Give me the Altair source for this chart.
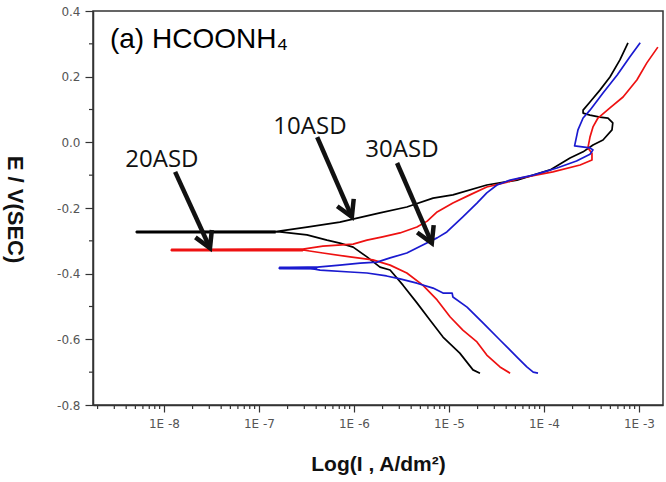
import altair as alt
import pandas as pd

# ---- data: current density (A/dm2) and potential (V vs SCE), in scan order
# 10ASD (black)
black_I = [2.12e-5, 1.79e-5, 1.3e-5, 8.65e-6, 6.3e-6, 4.6e-6, 3.28e-6, 2.4e-6, 1.88e-6, 1.37e-6,
           9.8e-7, 7.1e-7, 5.2e-7, 3.2e-7, 1.66e-7, 5.1e-9, 1.5e-7, 3.2e-7, 7.1e-7, 1.08e-6,
           1.88e-6, 3.6e-6, 6.8e-6, 1.1e-5, 2.5e-5, 5.2e-5, 1.16e-4, 1.88e-4, 2.58e-4, 3.28e-4,
           4.18e-4, 5.2e-4, 5.3e-4, 4.72e-4, 3.88e-4, 3.05e-4, 2.58e-4, 2.58e-4, 3.05e-4, 3.88e-4,
           4.95e-4, 6.3e-4, 7.66e-4]
black_E = [-0.703, -0.693, -0.642, -0.593, -0.541, -0.489, -0.435, -0.389, -0.380, -0.349,
           -0.319, -0.307, -0.298, -0.282, -0.273, -0.273, -0.272, -0.258, -0.243, -0.231,
           -0.215, -0.197, -0.170, -0.160, -0.130, -0.115, -0.084, -0.048, -0.029, -0.008,
           0.007, 0.038, 0.059, 0.074, 0.077, 0.083, 0.089, 0.098, 0.123, 0.159,
           0.199, 0.251, 0.303]
# 20ASD (red)
red_I = [4.4e-5, 3.44e-5, 2.5e-5, 1.97e-5, 1.4e-5, 1.03e-5, 7.5e-6, 5.3e-6, 3.6e-6, 2.4e-6,
         1.58e-6, 9.1e-7, 4.7e-7, 2.9e-7, 1.19e-8, 2.9e-7, 4.7e-7, 9.8e-7, 1.37e-6, 2.0e-6,
         3.05e-6, 4.6e-6, 5.9e-6, 7.5e-6, 1.1e-5, 1.66e-5, 2.5e-5, 4.1e-5, 5.6e-5, 1.24e-4,
         2.4e-4, 3.2e-4, 3.2e-4, 2.9e-4, 3.05e-4, 3.28e-4, 3.7e-4, 4.95e-4, 6.8e-4, 9.5e-4,
         1.21e-3, 1.58e-3]
red_E = [-0.703, -0.684, -0.648, -0.608, -0.572, -0.532, -0.480, -0.435, -0.398, -0.374,
         -0.358, -0.349, -0.337, -0.328, -0.328, -0.325, -0.316, -0.310, -0.298, -0.288,
         -0.276, -0.258, -0.240, -0.212, -0.185, -0.160, -0.136, -0.121, -0.109, -0.090,
         -0.069, -0.054, -0.033, -0.017, 0.016, 0.047, 0.074, 0.105, 0.138, 0.190,
         0.242, 0.290]
# 30ASD (blue)
blue_I = [8.65e-5, 7.7e-5, 6.6e-5, 5.2e-5, 3.44e-5, 2.28e-5, 1.55e-5, 1.1e-5, 1.08e-5, 8.65e-6,
          6.8e-6, 4.6e-6, 3.05e-6, 2.2e-6, 1.37e-6, 9.1e-7, 4.4e-7, 3.5e-7, 1.63e-7, 4.1e-7,
          7.1e-7, 1.16e-6, 1.75e-6, 2.4e-6, 3.6e-6, 5.3e-6, 7.5e-6, 9.5e-6, 1.4e-5, 1.97e-5,
          2.5e-5, 3.2e-5, 4.4e-5, 7.7e-5, 1.37e-4, 2.2e-4, 3.05e-4, 3.28e-4, 3.05e-4, 2.1e-4,
          2.28e-4, 2.58e-4, 3.05e-4, 4.18e-4, 5.9e-4, 8.0e-4, 1.03e-3]
blue_E = [-0.703, -0.700, -0.684, -0.654, -0.602, -0.550, -0.502, -0.471, -0.459, -0.459,
          -0.444, -0.429, -0.416, -0.407, -0.398, -0.395, -0.389, -0.384, -0.383, -0.380,
          -0.374, -0.368, -0.365, -0.352, -0.337, -0.313, -0.291, -0.273, -0.227, -0.185,
          -0.154, -0.130, -0.115, -0.100, -0.078, -0.057, -0.036, -0.023, -0.017, -0.011,
          0.038, 0.074, 0.098, 0.150, 0.205, 0.260, 0.303]

series_names = ["10ASD", "20ASD", "30ASD"]
series_colors = ["#000000", "#ee1111", "#1a1ad0"]

# flat part of each curve near the corrosion potential (drawn heavier)
flat_lo = [5.1e-9, 1.19e-8, 1.63e-7]
flat_hi = [1.5e-7, 2.9e-7, 4.1e-7]
flat_E = [-0.273, -0.328, -0.383]

# annotation labels and arrows (data coordinates)
label_text = ["20ASD", "10ASD", "30ASD"]
label_I = [9.5e-9, 3.44e-7, 3.2e-6]
label_E = [-0.075, 0.025, -0.045]
arrow_I0 = [1.31e-8, 4.1e-7, 2.84e-6]
arrow_E0 = [-0.090, 0.016, -0.063]
arrow_I1 = [3.05e-8, 9.5e-7, 6.6e-6]
arrow_E1 = [-0.322, -0.227, -0.307]

title_text = "(a) HCOONH\u2084"
title_I = [2.7e-9]
title_E = [0.287]

x_major = [1e-8, 1e-7, 1e-6, 1e-5, 1e-4, 1e-3]
x_minor = [m * 10.0 ** d for d in range(-9, -2) for m in range(2, 10)
           if 1.79e-9 <= m * 10.0 ** d <= 1.79e-3]
y_major = [-0.8, -0.6, -0.4, -0.2, 0.0, 0.2, 0.4]
y_minor = [-0.7, -0.5, -0.3, -0.1, 0.1, 0.3]

# ---- tables
rows = []
for name, xs, ys in zip(series_names, [black_I, red_I, blue_I], [black_E, red_E, blue_E]):
    for k, (a, b) in enumerate(zip(xs, ys)):
        rows.append({"I": a, "E": b, "series": name, "k": k})
df = pd.DataFrame(rows)
flat_df = pd.DataFrame({"I": flat_lo, "I2": flat_hi, "E": flat_E, "series": series_names})
lab_df = pd.DataFrame({"I": label_I, "E": label_E, "t": label_text})
arr_df = pd.DataFrame({"I": arrow_I0, "E": arrow_E0, "I2": arrow_I1, "E2": arrow_E1})
head_df = pd.DataFrame({"I": arrow_I1, "E": arrow_E1})
title_df = pd.DataFrame({"I": title_I, "E": title_E, "t": [title_text]})
xminor_df = pd.DataFrame({"I": x_minor})
yminor_df = pd.DataFrame({"E": y_minor})

FONT = "Liberation Sans"
LFONT = "DejaVu Sans"
xscale = alt.Scale(type="log", domain=[1.79e-9, 1.79e-3], nice=False)
yscale = alt.Scale(domain=[-0.8, 0.4], nice=False)
cscale = alt.Scale(domain=series_names, range=series_colors)

x_axis = alt.Axis(values=x_major,
                  labelExpr="'1E -' + abs(round(log(datum.value) / LN10))",
                  title="Log(I , A/dm\u00b2)", titleFont=FONT, titleFontSize=21,
                  titleFontWeight="bold", titleColor="#111", titleY=65,
                  titleBaseline="alphabetic",
                  labelFont=LFONT, labelFontSize=12, labelColor="#555", labelPadding=6,
                  tickSize=7, tickColor="#333", tickWidth=1.2,
                  domainColor="#333", domainWidth=1.5, grid=False)
y_axis = alt.Axis(values=y_major,
                  labelExpr="replace(format(datum.value, '.1f'), '\u2212', '-')",
                  title="E / V(SEC)", titleFont=FONT, titleFontSize=22,
                  titleFontWeight="bold", titleColor="#111", titleAngle=90,
                  titleX=-79, titleY=198, titleAlign="center", titleBaseline="middle",
                  labelFont=LFONT, labelFontSize=12, labelColor="#555", labelPadding=5,
                  tickSize=8, tickColor="#333", tickWidth=1.2,
                  domainColor="#333", domainWidth=1.5, grid=False)

X = alt.X("I:Q", scale=xscale, axis=x_axis)
Y = alt.Y("E:Q", scale=yscale, axis=y_axis)

lines = alt.Chart(df).mark_line(strokeWidth=1.7, strokeJoin="round").encode(
    x=X, y=Y,
    color=alt.Color("series:N", scale=cscale, legend=None),
    order="k:Q",
)

flats = alt.Chart(flat_df).mark_rule(strokeWidth=3).encode(
    x=X, x2="I2:Q", y=Y,
    color=alt.Color("series:N", scale=cscale, legend=None),
)

shafts = alt.Chart(arr_df).mark_rule(strokeWidth=4.5, color="#111", strokeCap="butt").encode(
    x=X, y=Y, x2="I2:Q", y2="E2:Q",
)

heads = alt.Chart(head_df).mark_point(
    shape="M -0.5 -0.87 L 0 0 L 0.5 -0.87", size=1300, angle=336,
    filled=False, stroke="#111", strokeWidth=4.5, opacity=1, strokeJoin="miter",
).encode(x=X, y=Y)

labels = alt.Chart(lab_df).mark_text(font="Open Sans", fontSize=24, color="#111",
                                     align="center", baseline="alphabetic").encode(
    x=X, y=Y, text="t:N",
)

title = alt.Chart(title_df).mark_text(font=FONT, fontSize=28, color="#000",
                                      align="left", baseline="alphabetic").encode(
    x=X, y=Y, text="t:N",
)

xminor = alt.Chart(xminor_df).mark_rule(color="#333", strokeWidth=1.2).encode(
    x=X, y=alt.value(394), y2=alt.value(398),
)
yminor = alt.Chart(yminor_df).mark_rule(color="#333", strokeWidth=1.2).encode(
    y=Y, x=alt.value(-4), x2=alt.value(0),
)

chart = alt.layer(lines, flats, shafts, heads, labels, title, xminor, yminor).properties(
    width=570, height=394,
    autosize=alt.AutoSizeParams(type="none"),
    padding={"left": 93, "top": 11, "right": 3, "bottom": 77},
    background="white",
).configure_view(stroke="#333", strokeWidth=1.5)

chart.save("out.html", embed_options={"renderer": "svg", "actions": False})
